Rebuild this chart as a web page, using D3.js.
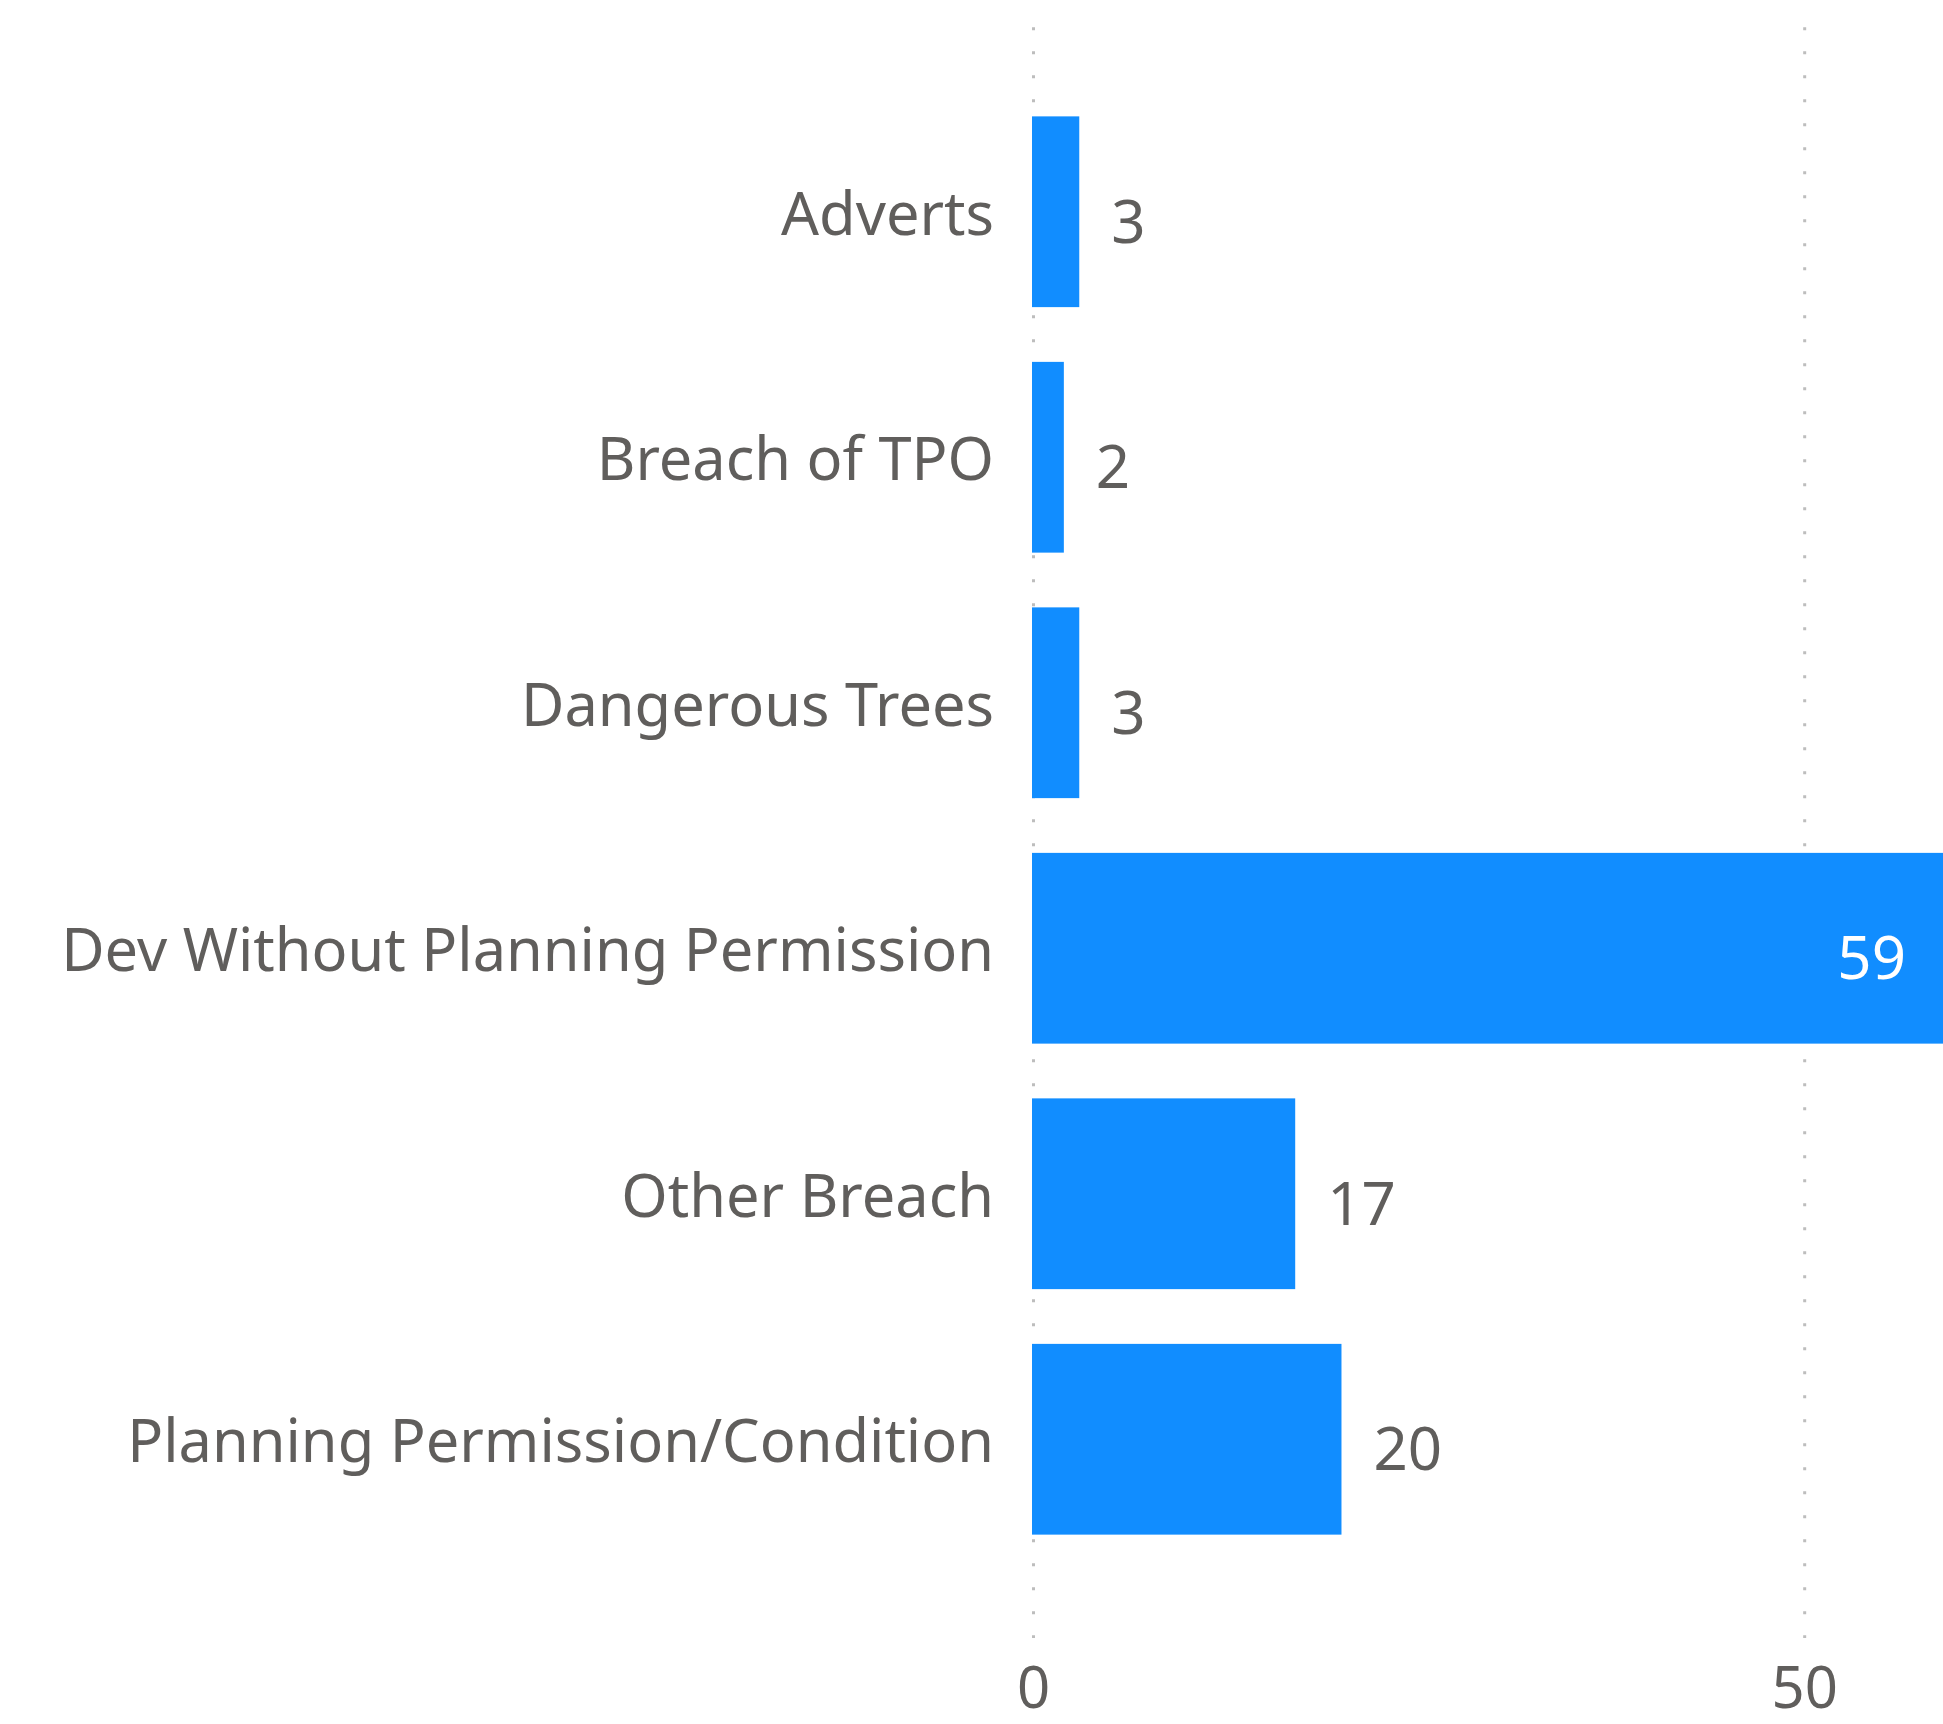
<!DOCTYPE html>
<html>
<head>
<meta charset="utf-8">
<script src="https://cdn.jsdelivr.net/npm/d3@7"></script>
<style>
    html, body { margin: 0; padding: 0; background: #fff; }
    svg { display: block; font-family: "Noto Sans", "Open Sans", sans-serif; }
</style>
</head>
<body>
<div id="chart"></div>
<script>
(function () {
    "use strict";

    const categories = [
        "Adverts",
        "Breach of TPO",
        "Dangerous Trees",
        "Dev Without Planning Permission",
        "Other Breach",
        "Planning Permission/Condition"
    ];
    const counts = [3, 2, 3, 59, 17, 20];
    const tickValues = [0, 50];

    const width = 1943;
    const height = 1724;
    const textColor = "#605e5c";
    const barColor = "#118dff";

    const svg = d3.select("#chart").append("svg")
        .attr("width", width)
        .attr("height", height);

    const xScale = d3.scaleLinear()
        .domain([0, 59])
        .range([1033, 1943]);

    const yScale = d3.scaleBand()
        .domain(categories)
        .range([89, 1562])
        .paddingInner(0.223)
        .paddingOuter(0.1115);

    // dotted gridlines
    svg.append("g")
        .selectAll("line")
        .data(tickValues)
        .join("line")
        .attr("x1", d => xScale(d) + 0.5)
        .attr("x2", d => xScale(d) + 0.5)
        .attr("y1", 27.2)
        .attr("y2", 1638)
        .attr("stroke", "#bdbdbd")
        .attr("stroke-width", 3)
        .attr("stroke-dasharray", "3 21");

    // tick labels
    svg.append("g")
        .selectAll("text")
        .data(tickValues)
        .join("text")
        .attr("x", d => xScale(d) + 0.5)
        .attr("y", 1708)
        .attr("text-anchor", "middle")
        .attr("font-size", 58)
        .attr("fill", textColor)
        .text(d => d);

    const rows = categories.map((c, i) => ({ name: c, value: counts[i] }));

    // bars
    svg.append("g")
        .selectAll("rect")
        .data(rows)
        .join("rect")
        .attr("x", xScale(0) - 1)
        .attr("y", d => yScale(d.name))
        .attr("width", d => xScale(d.value) - xScale(0) + 1)
        .attr("height", yScale.bandwidth())
        .attr("fill", barColor);

    // category labels
    svg.append("g")
        .selectAll("text")
        .data(rows)
        .join("text")
        .attr("x", 994)
        .attr("y", d => yScale(d.name) + yScale.bandwidth() / 2 + 23)
        .attr("text-anchor", "end")
        .attr("font-size", 59.5)
        .attr("fill", textColor)
        .text(d => d.name);

    // value labels, inside the bar when there is no room outside
    svg.append("g")
        .selectAll("text")
        .data(rows)
        .join("text")
        .each(function (d) {
            const inside = xScale(d.value) + 34 + 80 > width;
            d3.select(this)
                .attr("x", inside ? xScale(d.value) - 37 : xScale(d.value) + 32)
                .attr("text-anchor", inside ? "end" : "start")
                .attr("fill", inside ? "#ffffff" : textColor);
        })
        .attr("y", d => yScale(d.name) + yScale.bandwidth() / 2 + 31)
        .attr("font-size", 60)
        .text(d => d.value);
}());
</script>
</body>
</html>
